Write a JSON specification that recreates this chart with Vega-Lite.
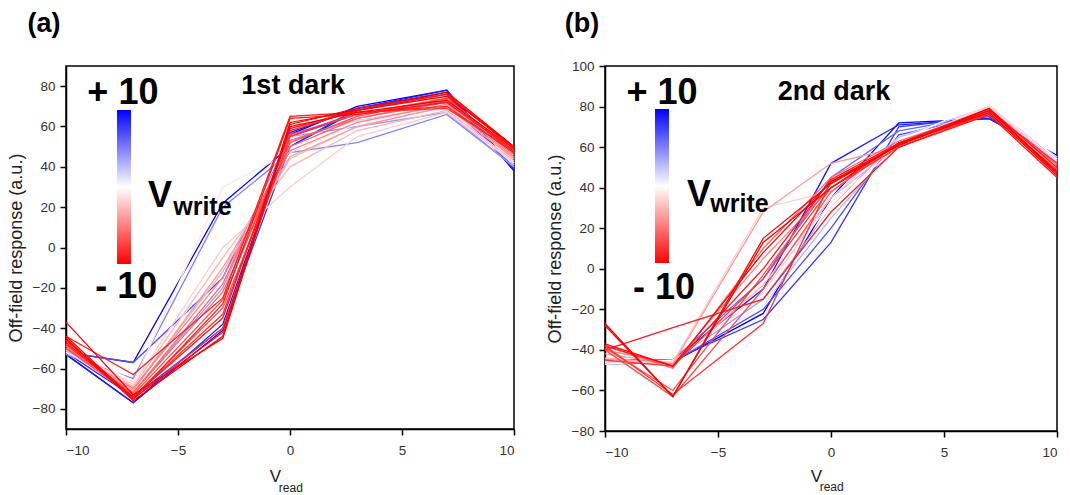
{
"$schema":"https://vega.github.io/schema/vega-lite/v6.json",
"background":"white",
"padding":{"left":6,"top":8,"right":5,"bottom":5},
"config":{
 "font":"Liberation Sans",
 "view":{"stroke":"black","strokeWidth":1.5},
 "axis":{"grid":false,"domainColor":"black","domainWidth":1.5,"tickColor":"black","tickWidth":1.5,"tickSize":6,"labelFontSize":13.5,"labelColor":"#333333","labelPadding":5,"titleFontSize":18,"titleFontWeight":"normal","titleColor":"#222222","titlePadding":7},
 "axisX":{"labelPadding":8}
},
"datasets":{
"a":[
{"id":"a01","vw":10,"vr":-10,"r":-52},{"id":"a01","vw":10,"vr":-7,"r":-57},{"id":"a01","vw":10,"vr":-3,"r":22},{"id":"a01","vw":10,"vr":0,"r":50},{"id":"a01","vw":10,"vr":3,"r":68},{"id":"a01","vw":10,"vr":7,"r":77},{"id":"a01","vw":10,"vr":10,"r":38},
{"id":"a02","vw":10,"vr":-10,"r":-53},{"id":"a02","vw":10,"vr":-7,"r":-77},{"id":"a02","vw":10,"vr":-3,"r":-41},{"id":"a02","vw":10,"vr":0,"r":56},{"id":"a02","vw":10,"vr":3,"r":70},{"id":"a02","vw":10,"vr":7,"r":78},{"id":"a02","vw":10,"vr":10,"r":39},
{"id":"a03","vw":9,"vr":-10,"r":-53},{"id":"a03","vw":9,"vr":-7,"r":-77},{"id":"a03","vw":9,"vr":-3,"r":-38},{"id":"a03","vw":9,"vr":0,"r":57},{"id":"a03","vw":9,"vr":3,"r":69},{"id":"a03","vw":9,"vr":7,"r":78},{"id":"a03","vw":9,"vr":10,"r":38},
{"id":"a04","vw":8,"vr":-10,"r":-52},{"id":"a04","vw":8,"vr":-7,"r":-74},{"id":"a04","vw":8,"vr":-3,"r":-40},{"id":"a04","vw":8,"vr":0,"r":50},{"id":"a04","vw":8,"vr":3,"r":69},{"id":"a04","vw":8,"vr":7,"r":76},{"id":"a04","vw":8,"vr":10,"r":39},
{"id":"a05","vw":7,"vr":-10,"r":-52},{"id":"a05","vw":7,"vr":-7,"r":-57},{"id":"a05","vw":7,"vr":-3,"r":-15},{"id":"a05","vw":7,"vr":0,"r":55},{"id":"a05","vw":7,"vr":3,"r":66},{"id":"a05","vw":7,"vr":7,"r":72},{"id":"a05","vw":7,"vr":10,"r":40},
{"id":"a06","vw":5,"vr":-10,"r":-53},{"id":"a06","vw":5,"vr":-7,"r":-65},{"id":"a06","vw":5,"vr":-3,"r":20},{"id":"a06","vw":5,"vr":0,"r":47},{"id":"a06","vw":5,"vr":3,"r":52},{"id":"a06","vw":5,"vr":7,"r":66},{"id":"a06","vw":5,"vr":10,"r":40},
{"id":"a07","vw":4,"vr":-10,"r":-51},{"id":"a07","vw":4,"vr":-7,"r":-72},{"id":"a07","vw":4,"vr":-3,"r":-20},{"id":"a07","vw":4,"vr":0,"r":55},{"id":"a07","vw":4,"vr":3,"r":60},{"id":"a07","vw":4,"vr":7,"r":67},{"id":"a07","vw":4,"vr":10,"r":40},
{"id":"a08","vw":2,"vr":-10,"r":-52},{"id":"a08","vw":2,"vr":-7,"r":-70},{"id":"a08","vw":2,"vr":-3,"r":-12},{"id":"a08","vw":2,"vr":0,"r":53},{"id":"a08","vw":2,"vr":3,"r":63},{"id":"a08","vw":2,"vr":7,"r":70},{"id":"a08","vw":2,"vr":10,"r":41},
{"id":"a09","vw":0,"vr":-10,"r":-50},{"id":"a09","vw":0,"vr":-7,"r":-66},{"id":"a09","vw":0,"vr":-3,"r":-8},{"id":"a09","vw":0,"vr":0,"r":50},{"id":"a09","vw":0,"vr":3,"r":61},{"id":"a09","vw":0,"vr":7,"r":68},{"id":"a09","vw":0,"vr":10,"r":42},
{"id":"a10","vw":-1,"vr":-10,"r":-52},{"id":"a10","vw":-1,"vr":-7,"r":-67},{"id":"a10","vw":-1,"vr":-3,"r":30},{"id":"a10","vw":-1,"vr":0,"r":47},{"id":"a10","vw":-1,"vr":3,"r":62},{"id":"a10","vw":-1,"vr":7,"r":69},{"id":"a10","vw":-1,"vr":10,"r":42},
{"id":"a11","vw":-2,"vr":-10,"r":-50},{"id":"a11","vw":-2,"vr":-7,"r":-68},{"id":"a11","vw":-2,"vr":-3,"r":0},{"id":"a11","vw":-2,"vr":0,"r":30},{"id":"a11","vw":-2,"vr":3,"r":55},{"id":"a11","vw":-2,"vr":7,"r":67},{"id":"a11","vw":-2,"vr":10,"r":42},
{"id":"a12","vw":-3,"vr":-10,"r":-51},{"id":"a12","vw":-3,"vr":-7,"r":-69},{"id":"a12","vw":-3,"vr":-3,"r":-5},{"id":"a12","vw":-3,"vr":0,"r":40},{"id":"a12","vw":-3,"vr":3,"r":58},{"id":"a12","vw":-3,"vr":7,"r":68},{"id":"a12","vw":-3,"vr":10,"r":43},
{"id":"a13","vw":-3,"vr":-10,"r":-50},{"id":"a13","vw":-3,"vr":-7,"r":-70},{"id":"a13","vw":-3,"vr":-3,"r":-12},{"id":"a13","vw":-3,"vr":0,"r":44},{"id":"a13","vw":-3,"vr":3,"r":60},{"id":"a13","vw":-3,"vr":7,"r":70},{"id":"a13","vw":-3,"vr":10,"r":44},
{"id":"a14","vw":-4,"vr":-10,"r":-48},{"id":"a14","vw":-4,"vr":-7,"r":-71},{"id":"a14","vw":-4,"vr":-3,"r":-10},{"id":"a14","vw":-4,"vr":0,"r":45},{"id":"a14","vw":-4,"vr":3,"r":60},{"id":"a14","vw":-4,"vr":7,"r":70},{"id":"a14","vw":-4,"vr":10,"r":44},
{"id":"a15","vw":-5,"vr":-10,"r":-50},{"id":"a15","vw":-5,"vr":-7,"r":-70},{"id":"a15","vw":-5,"vr":-3,"r":-15},{"id":"a15","vw":-5,"vr":0,"r":48},{"id":"a15","vw":-5,"vr":3,"r":62},{"id":"a15","vw":-5,"vr":7,"r":71},{"id":"a15","vw":-5,"vr":10,"r":45},
{"id":"a16","vw":-6,"vr":-10,"r":-49},{"id":"a16","vw":-6,"vr":-7,"r":-72},{"id":"a16","vw":-6,"vr":-3,"r":-22},{"id":"a16","vw":-6,"vr":0,"r":50},{"id":"a16","vw":-6,"vr":3,"r":64},{"id":"a16","vw":-6,"vr":7,"r":72},{"id":"a16","vw":-6,"vr":10,"r":46},
{"id":"a17","vw":-6,"vr":-10,"r":-50},{"id":"a17","vw":-6,"vr":-7,"r":-72},{"id":"a17","vw":-6,"vr":-3,"r":-18},{"id":"a17","vw":-6,"vr":0,"r":53},{"id":"a17","vw":-6,"vr":3,"r":64},{"id":"a17","vw":-6,"vr":7,"r":73},{"id":"a17","vw":-6,"vr":10,"r":47},
{"id":"a18","vw":-7,"vr":-10,"r":-50},{"id":"a18","vw":-7,"vr":-7,"r":-74},{"id":"a18","vw":-7,"vr":-3,"r":-30},{"id":"a18","vw":-7,"vr":0,"r":52},{"id":"a18","vw":-7,"vr":3,"r":65},{"id":"a18","vw":-7,"vr":7,"r":74},{"id":"a18","vw":-7,"vr":10,"r":47},
{"id":"a19","vw":-7,"vr":-10,"r":-48},{"id":"a19","vw":-7,"vr":-7,"r":-73},{"id":"a19","vw":-7,"vr":-3,"r":-26},{"id":"a19","vw":-7,"vr":0,"r":56},{"id":"a19","vw":-7,"vr":3,"r":66},{"id":"a19","vw":-7,"vr":7,"r":74},{"id":"a19","vw":-7,"vr":10,"r":48},
{"id":"a20","vw":-8,"vr":-10,"r":-46},{"id":"a20","vw":-8,"vr":-7,"r":-75},{"id":"a20","vw":-8,"vr":-3,"r":-40},{"id":"a20","vw":-8,"vr":0,"r":55},{"id":"a20","vw":-8,"vr":3,"r":67},{"id":"a20","vw":-8,"vr":7,"r":69},{"id":"a20","vw":-8,"vr":10,"r":48},
{"id":"a21","vw":-8,"vr":-10,"r":-48},{"id":"a21","vw":-8,"vr":-7,"r":-74},{"id":"a21","vw":-8,"vr":-3,"r":-33},{"id":"a21","vw":-8,"vr":0,"r":58},{"id":"a21","vw":-8,"vr":3,"r":68},{"id":"a21","vw":-8,"vr":7,"r":76},{"id":"a21","vw":-8,"vr":10,"r":50},
{"id":"a22","vw":-9,"vr":-10,"r":-44},{"id":"a22","vw":-9,"vr":-7,"r":-63},{"id":"a22","vw":-9,"vr":-3,"r":-25},{"id":"a22","vw":-9,"vr":0,"r":65},{"id":"a22","vw":-9,"vr":3,"r":67},{"id":"a22","vw":-9,"vr":7,"r":70},{"id":"a22","vw":-9,"vr":10,"r":47},
{"id":"a23","vw":-9,"vr":-10,"r":-47},{"id":"a23","vw":-9,"vr":-7,"r":-75},{"id":"a23","vw":-9,"vr":-3,"r":-28},{"id":"a23","vw":-9,"vr":0,"r":64},{"id":"a23","vw":-9,"vr":3,"r":66},{"id":"a23","vw":-9,"vr":7,"r":72},{"id":"a23","vw":-9,"vr":10,"r":48},
{"id":"a24","vw":-9,"vr":-10,"r":-46},{"id":"a24","vw":-9,"vr":-7,"r":-74},{"id":"a24","vw":-9,"vr":-3,"r":-35},{"id":"a24","vw":-9,"vr":0,"r":59},{"id":"a24","vw":-9,"vr":3,"r":68},{"id":"a24","vw":-9,"vr":7,"r":76},{"id":"a24","vw":-9,"vr":10,"r":49},
{"id":"a25","vw":-10,"vr":-10,"r":-45},{"id":"a25","vw":-10,"vr":-7,"r":-76},{"id":"a25","vw":-10,"vr":-3,"r":-44},{"id":"a25","vw":-10,"vr":0,"r":62},{"id":"a25","vw":-10,"vr":3,"r":68},{"id":"a25","vw":-10,"vr":7,"r":75},{"id":"a25","vw":-10,"vr":10,"r":50},
{"id":"a26","vw":-10,"vr":-10,"r":-37},{"id":"a26","vw":-10,"vr":-7,"r":-73},{"id":"a26","vw":-10,"vr":-3,"r":-45},{"id":"a26","vw":-10,"vr":0,"r":60},{"id":"a26","vw":-10,"vr":3,"r":67},{"id":"a26","vw":-10,"vr":7,"r":73},{"id":"a26","vw":-10,"vr":10,"r":49},
{"id":"a27","vw":-10,"vr":-10,"r":-44},{"id":"a27","vw":-10,"vr":-7,"r":-75},{"id":"a27","vw":-10,"vr":-3,"r":-42},{"id":"a27","vw":-10,"vr":0,"r":61},{"id":"a27","vw":-10,"vr":3,"r":69},{"id":"a27","vw":-10,"vr":7,"r":77},{"id":"a27","vw":-10,"vr":10,"r":50}
],
"b":[
{"id":"b01","vw":10,"vr":-10,"r":-46},{"id":"b01","vw":10,"vr":-7,"r":-46},{"id":"b01","vw":10,"vr":-3,"r":-22},{"id":"b01","vw":10,"vr":0,"r":35},{"id":"b01","vw":10,"vr":3,"r":72},{"id":"b01","vw":10,"vr":7,"r":74},{"id":"b01","vw":10,"vr":10,"r":56},
{"id":"b02","vw":9,"vr":-10,"r":-45},{"id":"b02","vw":9,"vr":-7,"r":-45},{"id":"b02","vw":9,"vr":-3,"r":-10},{"id":"b02","vw":9,"vr":0,"r":52},{"id":"b02","vw":9,"vr":3,"r":71},{"id":"b02","vw":9,"vr":7,"r":74},{"id":"b02","vw":9,"vr":10,"r":55},
{"id":"b03","vw":8,"vr":-10,"r":-46},{"id":"b03","vw":8,"vr":-7,"r":-45},{"id":"b03","vw":8,"vr":-3,"r":-25},{"id":"b03","vw":8,"vr":0,"r":13},{"id":"b03","vw":8,"vr":3,"r":70},{"id":"b03","vw":8,"vr":7,"r":75},{"id":"b03","vw":8,"vr":10,"r":52},
{"id":"b04","vw":7,"vr":-10,"r":-47},{"id":"b04","vw":7,"vr":-7,"r":-46},{"id":"b04","vw":7,"vr":-3,"r":-20},{"id":"b04","vw":7,"vr":0,"r":20},{"id":"b04","vw":7,"vr":3,"r":66},{"id":"b04","vw":7,"vr":7,"r":76},{"id":"b04","vw":7,"vr":10,"r":54},
{"id":"b05","vw":6,"vr":-10,"r":-45},{"id":"b05","vw":6,"vr":-7,"r":-45},{"id":"b05","vw":6,"vr":-3,"r":-5},{"id":"b05","vw":6,"vr":0,"r":45},{"id":"b05","vw":6,"vr":3,"r":68},{"id":"b05","vw":6,"vr":7,"r":76},{"id":"b05","vw":6,"vr":10,"r":53},
{"id":"b06","vw":4,"vr":-10,"r":-46},{"id":"b06","vw":4,"vr":-7,"r":-46},{"id":"b06","vw":4,"vr":-3,"r":-15},{"id":"b06","vw":4,"vr":0,"r":30},{"id":"b06","vw":4,"vr":3,"r":65},{"id":"b06","vw":4,"vr":7,"r":78},{"id":"b06","vw":4,"vr":10,"r":55},
{"id":"b07","vw":3,"vr":-10,"r":-47},{"id":"b07","vw":3,"vr":-7,"r":-45},{"id":"b07","vw":3,"vr":-3,"r":-18},{"id":"b07","vw":3,"vr":0,"r":25},{"id":"b07","vw":3,"vr":3,"r":62},{"id":"b07","vw":3,"vr":7,"r":78},{"id":"b07","vw":3,"vr":10,"r":54},
{"id":"b08","vw":2,"vr":-10,"r":-46},{"id":"b08","vw":2,"vr":-7,"r":-46},{"id":"b08","vw":2,"vr":-3,"r":-12},{"id":"b08","vw":2,"vr":0,"r":35},{"id":"b08","vw":2,"vr":3,"r":65},{"id":"b08","vw":2,"vr":7,"r":80},{"id":"b08","vw":2,"vr":10,"r":55},
{"id":"b09","vw":0,"vr":-10,"r":-47},{"id":"b09","vw":0,"vr":-7,"r":-45},{"id":"b09","vw":0,"vr":-3,"r":-18},{"id":"b09","vw":0,"vr":0,"r":30},{"id":"b09","vw":0,"vr":3,"r":63},{"id":"b09","vw":0,"vr":7,"r":83},{"id":"b09","vw":0,"vr":10,"r":54},
{"id":"b10","vw":-1,"vr":-10,"r":-46},{"id":"b10","vw":-1,"vr":-7,"r":-46},{"id":"b10","vw":-1,"vr":-3,"r":-12},{"id":"b10","vw":-1,"vr":0,"r":33},{"id":"b10","vw":-1,"vr":3,"r":60},{"id":"b10","vw":-1,"vr":7,"r":81},{"id":"b10","vw":-1,"vr":10,"r":53},
{"id":"b11","vw":-2,"vr":-10,"r":-45},{"id":"b11","vw":-2,"vr":-7,"r":-46},{"id":"b11","vw":-2,"vr":-3,"r":30},{"id":"b11","vw":-2,"vr":0,"r":38},{"id":"b11","vw":-2,"vr":3,"r":62},{"id":"b11","vw":-2,"vr":7,"r":80},{"id":"b11","vw":-2,"vr":10,"r":52},
{"id":"b12","vw":-3,"vr":-10,"r":-44},{"id":"b12","vw":-3,"vr":-7,"r":-47},{"id":"b12","vw":-3,"vr":-3,"r":-8},{"id":"b12","vw":-3,"vr":0,"r":35},{"id":"b12","vw":-3,"vr":3,"r":61},{"id":"b12","vw":-3,"vr":7,"r":78},{"id":"b12","vw":-3,"vr":10,"r":50},
{"id":"b13","vw":-4,"vr":-10,"r":-42},{"id":"b13","vw":-4,"vr":-7,"r":-47},{"id":"b13","vw":-4,"vr":-3,"r":28},{"id":"b13","vw":-4,"vr":0,"r":52},{"id":"b13","vw":-4,"vr":3,"r":60},{"id":"b13","vw":-4,"vr":7,"r":77},{"id":"b13","vw":-4,"vr":10,"r":48},
{"id":"b14","vw":-5,"vr":-10,"r":-40},{"id":"b14","vw":-5,"vr":-7,"r":-47},{"id":"b14","vw":-5,"vr":-3,"r":5},{"id":"b14","vw":-5,"vr":0,"r":40},{"id":"b14","vw":-5,"vr":3,"r":62},{"id":"b14","vw":-5,"vr":7,"r":78},{"id":"b14","vw":-5,"vr":10,"r":49},
{"id":"b15","vw":-6,"vr":-10,"r":-38},{"id":"b15","vw":-6,"vr":-7,"r":-49},{"id":"b15","vw":-6,"vr":-3,"r":10},{"id":"b15","vw":-6,"vr":0,"r":45},{"id":"b15","vw":-6,"vr":3,"r":63},{"id":"b15","vw":-6,"vr":7,"r":78},{"id":"b15","vw":-6,"vr":10,"r":51},
{"id":"b16","vw":-7,"vr":-10,"r":-40},{"id":"b16","vw":-7,"vr":-7,"r":-63},{"id":"b16","vw":-7,"vr":-3,"r":-10},{"id":"b16","vw":-7,"vr":0,"r":38},{"id":"b16","vw":-7,"vr":3,"r":62},{"id":"b16","vw":-7,"vr":7,"r":76},{"id":"b16","vw":-7,"vr":10,"r":49},
{"id":"b17","vw":-7,"vr":-10,"r":-39},{"id":"b17","vw":-7,"vr":-7,"r":-60},{"id":"b17","vw":-7,"vr":-3,"r":-3},{"id":"b17","vw":-7,"vr":0,"r":42},{"id":"b17","vw":-7,"vr":3,"r":62},{"id":"b17","vw":-7,"vr":7,"r":77},{"id":"b17","vw":-7,"vr":10,"r":48},
{"id":"b18","vw":-8,"vr":-10,"r":-45},{"id":"b18","vw":-8,"vr":-7,"r":-48},{"id":"b18","vw":-8,"vr":-3,"r":-5},{"id":"b18","vw":-8,"vr":0,"r":40},{"id":"b18","vw":-8,"vr":3,"r":60},{"id":"b18","vw":-8,"vr":7,"r":77},{"id":"b18","vw":-8,"vr":10,"r":47},
{"id":"b19","vw":-8,"vr":-10,"r":-38},{"id":"b19","vw":-8,"vr":-7,"r":-62},{"id":"b19","vw":-8,"vr":-3,"r":-27},{"id":"b19","vw":-8,"vr":0,"r":43},{"id":"b19","vw":-8,"vr":3,"r":61},{"id":"b19","vw":-8,"vr":7,"r":78},{"id":"b19","vw":-8,"vr":10,"r":52},
{"id":"b20","vw":-9,"vr":-10,"r":-40},{"id":"b20","vw":-9,"vr":-7,"r":-29},{"id":"b20","vw":-9,"vr":-3,"r":-15},{"id":"b20","vw":-9,"vr":0,"r":28},{"id":"b20","vw":-9,"vr":3,"r":60},{"id":"b20","vw":-9,"vr":7,"r":76},{"id":"b20","vw":-9,"vr":10,"r":45},
{"id":"b21","vw":-9,"vr":-10,"r":-38},{"id":"b21","vw":-9,"vr":-7,"r":-48},{"id":"b21","vw":-9,"vr":-3,"r":0},{"id":"b21","vw":-9,"vr":0,"r":44},{"id":"b21","vw":-9,"vr":3,"r":62},{"id":"b21","vw":-9,"vr":7,"r":79},{"id":"b21","vw":-9,"vr":10,"r":50},
{"id":"b22","vw":-10,"vr":-10,"r":-28},{"id":"b22","vw":-10,"vr":-7,"r":-63},{"id":"b22","vw":-10,"vr":-3,"r":13},{"id":"b22","vw":-10,"vr":0,"r":40},{"id":"b22","vw":-10,"vr":3,"r":62},{"id":"b22","vw":-10,"vr":7,"r":77},{"id":"b22","vw":-10,"vr":10,"r":46},
{"id":"b23","vw":-10,"vr":-10,"r":-27},{"id":"b23","vw":-10,"vr":-7,"r":-63},{"id":"b23","vw":-10,"vr":-3,"r":15},{"id":"b23","vw":-10,"vr":0,"r":42},{"id":"b23","vw":-10,"vr":3,"r":61},{"id":"b23","vw":-10,"vr":7,"r":78},{"id":"b23","vw":-10,"vr":10,"r":48},
{"id":"b24","vw":-10,"vr":-10,"r":-37},{"id":"b24","vw":-10,"vr":-7,"r":-48},{"id":"b24","vw":-10,"vr":-3,"r":8},{"id":"b24","vw":-10,"vr":0,"r":43},{"id":"b24","vw":-10,"vr":3,"r":61},{"id":"b24","vw":-10,"vr":7,"r":79},{"id":"b24","vw":-10,"vr":10,"r":47}
]
},
"hconcat":[
{
 "width":448,"height":363,
 "encoding":{
  "x":{"field":"vr","type":"quantitative","scale":{"domain":[-10,10],"nice":false},"axis":{"values":[-10,-5,0,5,10],"title":null}},
  "y":{"field":"r","type":"quantitative","scale":{"domain":[-90,90],"nice":false},"axis":{"values":[-80,-60,-40,-20,0,20,40,60,80],"title":"Off-field response (a.u.)"}}
 },
 "layer":[
  {"data":{"name":"a"},"mark":{"type":"line","strokeWidth":1.3},
   "encoding":{
    "color":{"field":"vw","type":"quantitative","scale":{"domain":[-10,0,10],"range":["#ff0000","#ffffff","#0000ff"],"interpolate":"rgb"},
      "legend":{"orient":"none","legendX":51,"legendY":44,"direction":"vertical","gradientLength":154,"gradientThickness":14,"title":null,"labelOpacity":0,"labelFontSize":1,"padding":0,"gradientStrokeWidth":0}},
    "detail":{"field":"id"}}},
  {"data":{"values":[{"vr":-7.46,"r":71.0,"t":"+ 10"},{"vr":-7.31,"r":-25.2,"t":"- 10"},{"vr":-5.8,"r":19.9,"t":"V"}]},
   "mark":{"type":"text","fontSize":36,"fontWeight":"bold","color":"black","align":"center","baseline":"alphabetic"},"encoding":{"text":{"field":"t"}}},
  {"data":{"values":[{"vr":-3.91,"r":16.0,"t":"write"}]},
   "mark":{"type":"text","fontSize":25,"fontWeight":"bold","color":"black","align":"center","baseline":"alphabetic"},"encoding":{"text":{"field":"t"}}},
  {"data":{"values":[{"vr":0.14,"r":76.1,"t":"1st dark"},{"vr":-10.98,"r":106.7,"t":"(a)"}]},
   "mark":{"type":"text","fontSize":27,"fontWeight":"bold","color":"black","align":"center","baseline":"alphabetic"},"encoding":{"text":{"field":"t"}}},
  {"data":{"values":[{"vr":-0.9,"r":-116.5,"t":"V"}]},
   "mark":{"type":"text","fontSize":17,"color":"#222222","align":"left","baseline":"alphabetic"},"encoding":{"text":{"field":"t"}}},
  {"data":{"values":[{"vr":-0.5,"r":-121.0,"t":"read"}]},
   "mark":{"type":"text","fontSize":12,"color":"#222222","align":"left","baseline":"alphabetic"},"encoding":{"text":{"field":"t"}}}
 ]
},
{
 "width":452,"height":365,
 "encoding":{
  "x":{"field":"vr","type":"quantitative","scale":{"domain":[-10,10],"nice":false},"axis":{"values":[-10,-5,0,5,10],"title":null}},
  "y":{"field":"r","type":"quantitative","scale":{"domain":[-80,100],"nice":false},"axis":{"values":[-80,-60,-40,-20,0,20,40,60,80,100],"title":"Off-field response (a.u.)"}}
 },
 "layer":[
  {"data":{"name":"b"},"mark":{"type":"line","strokeWidth":1.3},
   "encoding":{
    "color":{"field":"vw","type":"quantitative","scale":{"domain":[-10,0,10],"range":["#ff0000","#ffffff","#0000ff"],"interpolate":"rgb"},
      "legend":{"orient":"none","legendX":50,"legendY":43,"direction":"vertical","gradientLength":154,"gradientThickness":14,"title":null,"labelOpacity":0,"labelFontSize":1,"padding":0,"gradientStrokeWidth":0}},
    "detail":{"field":"id"}}},
  {"data":{"values":[{"vr":-7.48,"r":81.5,"t":"+ 10"},{"vr":-7.39,"r":-14.7,"t":"- 10"},{"vr":-5.84,"r":31.2,"t":"V"}]},
   "mark":{"type":"text","fontSize":36,"fontWeight":"bold","color":"black","align":"center","baseline":"alphabetic"},"encoding":{"text":{"field":"t"}}},
  {"data":{"values":[{"vr":-4.05,"r":27.8,"t":"write"}]},
   "mark":{"type":"text","fontSize":25,"fontWeight":"bold","color":"black","align":"center","baseline":"alphabetic"},"encoding":{"text":{"field":"t"}}},
  {"data":{"values":[{"vr":0.13,"r":83.1,"t":"2nd dark"},{"vr":-11.02,"r":117.0,"t":"(b)"}]},
   "mark":{"type":"text","fontSize":27,"fontWeight":"bold","color":"black","align":"center","baseline":"alphabetic"},"encoding":{"text":{"field":"t"}}},
  {"data":{"values":[{"vr":-0.9,"r":-105.0,"t":"V"}]},
   "mark":{"type":"text","fontSize":17,"color":"#222222","align":"left","baseline":"alphabetic"},"encoding":{"text":{"field":"t"}}},
  {"data":{"values":[{"vr":-0.5,"r":-109.5,"t":"read"}]},
   "mark":{"type":"text","fontSize":12,"color":"#222222","align":"left","baseline":"alphabetic"},"encoding":{"text":{"field":"t"}}}
 ]
}
],
"spacing":27,
"resolve":{"scale":{"color":"independent"},"legend":{"color":"independent"}}
}
